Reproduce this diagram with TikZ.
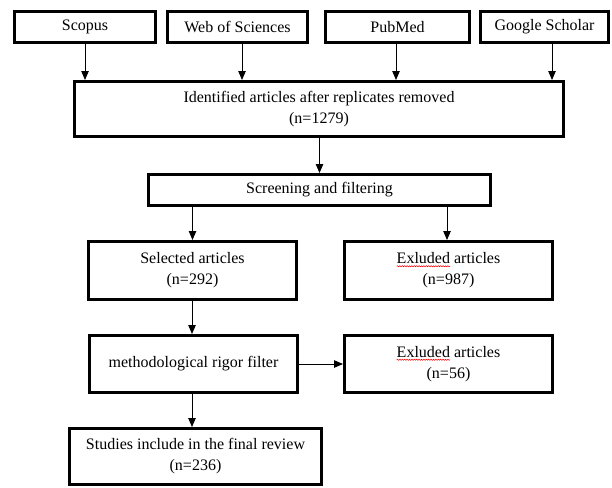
\documentclass[tikz,border=0pt]{standalone}
\usepackage{fontspec}
\setmainfont{Liberation Serif}
\usetikzlibrary{arrows.meta,decorations.pathmorphing}
\newsavebox{\errbox}
\newcommand{\spellerr}[1]{\sbox{\errbox}{#1}\rlap{\tikz[overlay,baseline=0pt]{\draw[red,line width=0.5pt,decorate,decoration={snake,amplitude=0.6pt,segment length=2.4pt}](0pt,-2.4pt)--(\the\wd\errbox,-2.4pt);}}\usebox{\errbox}}
\begin{document}
\begin{tikzpicture}[x=1pt,y=-1pt,
  box/.style={draw=black,line width=3pt,fill=white,align=center,inner sep=2pt,
    font=\fontsize{16}{21}\selectfont,text=black},
  arr/.style={draw=black,line width=0.8pt,-{Triangle[length=9pt,width=7.5pt]}}]
\useasboundingbox (0,0) rectangle (612,487);
\node[box,minimum width=141pt,minimum height=31pt] (scopus) at (85,27) {Scopus};
\node[box,minimum width=140pt,minimum height=31pt] (web) at (237.5,27) {Web of Sciences};
\node[box,minimum width=144pt,minimum height=31pt] (pubmed) at (397.5,27) {PubMed};
\node[box,minimum width=128pt,minimum height=31pt] (google) at (544.5,27) {Google Scholar};
\node[box,minimum width=489pt,minimum height=55pt] (ident) at (319,109) {Identified articles after replicates removed\\(n=1279)};
\node[box,minimum width=342pt,minimum height=31pt] (screen) at (319.5,190) {Screening and filtering};
\node[box,minimum width=208pt,minimum height=58pt] (sel) at (192.5,270.5) {Selected articles\\(n=292)};
\node[box,minimum width=208pt,minimum height=58pt] (exca) at (448.5,270.5) {\spellerr{Exluded} articles\\(n=987)};
\node[box,minimum width=208pt,minimum height=57pt] (meth) at (193.5,364) {methodological rigor filter};
\node[box,minimum width=208pt,minimum height=57pt] (excb) at (448.5,364) {\spellerr{Exluded} articles\\(n=56)};
\node[box,minimum width=252pt,minimum height=56pt] (stud) at (195.5,456.5) {Studies include in the final review\\(n=236)};
\draw[arr] (scopus.south) -- (scopus.south |- ident.north);
\draw[arr] ([xshift=4.5pt]web.south) -- ([xshift=4.5pt]web.south |- ident.north);
\draw[arr] ([xshift=-1.5pt]pubmed.south) -- ([xshift=-1.5pt]pubmed.south |- ident.north);
\draw[arr] ([xshift=7.5pt]google.south) -- ([xshift=7.5pt]google.south |- ident.north);
\draw[arr] (ident.south -| screen.north) -- (screen.north);
\draw[arr] (screen.south -| sel.north) -- (sel.north);
\draw[arr] ([xshift=-1.5pt]screen.south -| exca.north) -- ([xshift=-1.5pt]exca.north);
\draw[arr] ([xshift=-0.5pt]sel.south) -- ([xshift=-0.5pt]sel.south |- meth.north);
\draw[arr] (meth.east) -- (meth.east -| excb.west);
\draw[arr] ([xshift=-1.5pt]meth.south) -- ([xshift=-1.5pt]meth.south |- stud.north);
\end{tikzpicture}
\end{document}
